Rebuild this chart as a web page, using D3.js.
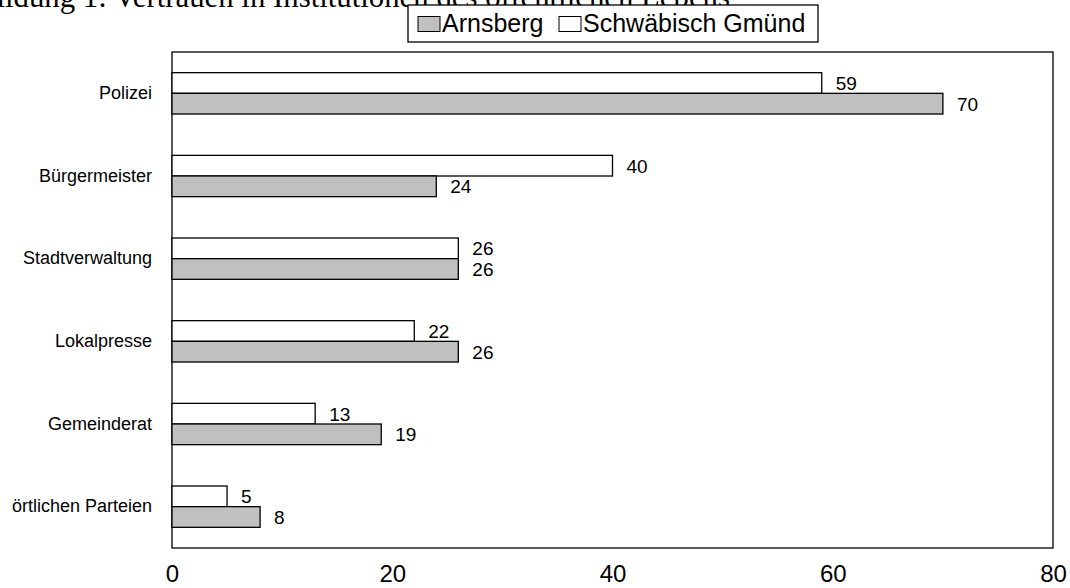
<!DOCTYPE html>
<html><head><meta charset="utf-8">
<script src="https://cdn.jsdelivr.net/npm/d3@7"></script>
<style>body{margin:0;background:#fff}svg{display:block}</style>
</head><body>
<svg id="c" width="1070" height="588"></svg>
<script>
const title = "Abbildung 1: Vertrauen in Institutionen des öffentlichen Lebens";
const categories = ["Polizei","Bürgermeister","Stadtverwaltung","Lokalpresse","Gemeinderat","örtlichen Parteien"];
const seriesNames = ["Schwäbisch Gmünd","Arnsberg"];
const gmuend = [59,40,26,22,13,5];
const arnsberg = [70,24,26,26,19,8];
const xTicks = [0,20,40,60,80];

const svg = d3.select("#c");
const L=172,T=52,R=1053,B=548;
const x = d3.scaleLinear().domain([0,80]).range([L,R]);
const y = d3.scaleBand().domain(categories).range([T,B]).paddingInner(0.5).paddingOuter(0.25);
const sub = d3.scaleBand().domain(seriesNames).range([0,y.bandwidth()]);
const fills = {"Schwäbisch Gmünd":"#ffffff","Arnsberg":"#c0c0c0"};
const vals = {"Schwäbisch Gmünd":gmuend,"Arnsberg":arnsberg};

svg.append("text").attr("x",730).attr("y",7).attr("text-anchor","end")
  .attr("font-family","Liberation Serif, Times New Roman, serif").attr("font-size",30.8).text(title);

svg.append("rect").attr("x",L).attr("y",T).attr("width",R-L).attr("height",B-T)
  .attr("fill","none").attr("stroke","#000").attr("stroke-width",1.3);

seriesNames.forEach(s=>{
  const g = svg.append("g");
  categories.forEach((c,i)=>{
    const v = vals[s][i];
    const yy = y(c)+sub(s);
    g.append("rect").attr("x",x(0)).attr("y",yy).attr("width",x(v)-x(0)).attr("height",sub.bandwidth())
      .attr("fill",fills[s]).attr("stroke","#000").attr("stroke-width",1.3);
    g.append("text").attr("x",x(v)+14).attr("y",yy+sub.bandwidth()/2).attr("dy","0.36em")
      .attr("font-family","Liberation Sans, Arial, sans-serif").attr("font-size",19).text(v);
  });
});

const yAxis = d3.axisLeft(y).tickSize(0).tickPadding(20);
const ya = svg.append("g").attr("transform",`translate(${L},0)`).call(yAxis);
ya.select(".domain").remove();
ya.selectAll("text").attr("font-family","Liberation Sans, Arial, sans-serif").attr("font-size",18).attr("fill","#000");

const xAxis = d3.axisBottom(x).tickValues(xTicks).tickSize(0).tickPadding(17);
const xa = svg.append("g").attr("transform",`translate(0,${B})`).call(xAxis);
xa.select(".domain").remove();
xa.selectAll("text").attr("font-family","Liberation Sans, Arial, sans-serif").attr("font-size",24).attr("fill","#000");

// legend
const lg = svg.append("g");
lg.append("rect").attr("x",408).attr("y",5).attr("width",410).attr("height",37).attr("fill","#fff").attr("stroke","#000").attr("stroke-width",1.3);
const legItems = [{name:"Arnsberg",x:418},{name:"Schwäbisch Gmünd",x:559}];
legItems.forEach(it=>{
  lg.append("rect").attr("x",it.x).attr("y",16.5).attr("width",22).attr("height",15)
    .attr("fill",fills[it.name]).attr("stroke","#000").attr("stroke-width",1);
  lg.append("text").attr("x",it.x+24).attr("y",32).attr("font-family","Liberation Sans, Arial, sans-serif")
    .attr("font-size",25).text(it.name);
});
</script>
</body></html>
